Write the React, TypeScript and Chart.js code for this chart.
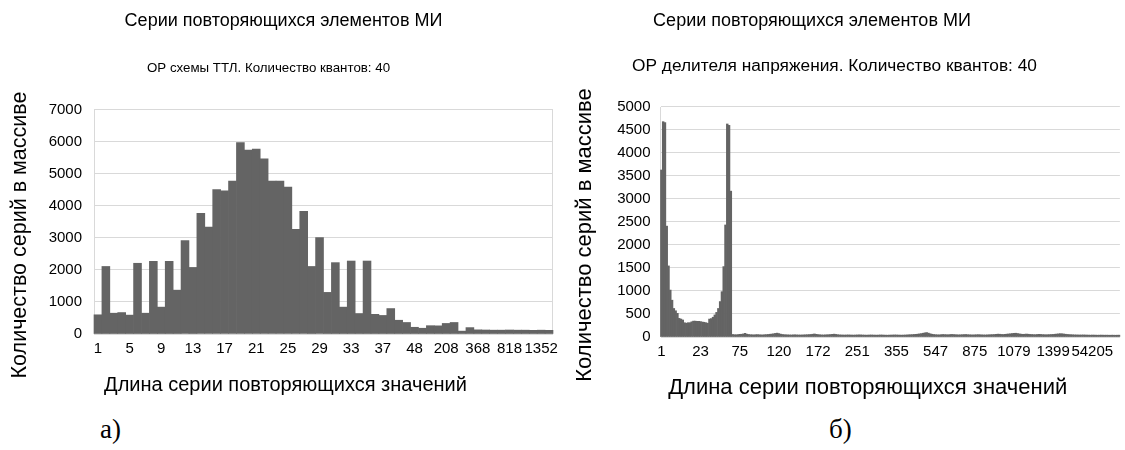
import React, { useEffect, useRef } from 'react';
import { Chart, registerables } from 'chart.js';

Chart.register(...registerables);

const mainTitle = 'Серии повторяющихся элементов МИ';
const leftSubtitle = 'ОР схемы ТТЛ. Количество квантов: 40';
const rightSubtitle = 'ОР делителя напряжения. Количество квантов: 40';
const xAxisTitle = 'Длина серии повторяющихся значений';
const yAxisTitle = 'Количество серий в массиве';
const leftCaption = 'а)';
const rightCaption = 'б)';

// Left chart (а): one bar per series length; tick labels every 4th category
const leftTickLabels = ['1', '5', '9', '13', '17', '21', '25', '29', '33', '37', '48', '208', '368', '818', '1352'];
const leftTickStep = 4;
const leftValues = [
  600, 2110, 650, 670, 590, 2210, 650, 2270, 840, 2270,
  1370, 2920, 2080, 3770, 3340, 4510, 4470, 4780, 5980, 5750,
  5780, 5470, 4780, 4780, 4590, 3270, 3830, 2110, 3010, 1300,
  2230, 840, 2280, 640, 2280, 615, 580, 795, 430, 360,
  210, 180, 260, 255, 330, 360, 90, 200, 130, 125,
  120, 120, 125, 120, 120, 115, 120, 115,
];

// Right chart (б): tick labels every 22nd category
const rightTickLabels = ['1', '23', '75', '120', '172', '251', '355', '547', '875', '1079', '1399', '54205'];
const rightTickStep = 22;
const rightValues = [
  3630, 4680, 4660, 2410, 1545, 1020, 800, 620, 570, 515,
  405, 390, 370, 310, 300, 310, 310, 330, 345, 345,
  340, 340, 335, 325, 320, 310, 300, 390, 400, 430,
  480, 535, 620, 770, 985, 1530, 2435, 4630, 4600, 3170,
  55, 50, 48, 52, 58, 60, 66, 80, 62, 55,
  50, 48, 46, 50, 52, 48, 46, 45, 50, 52,
  55, 60, 64, 70, 78, 84, 74, 62, 55, 50,
  48, 46, 45, 44, 46, 48, 45, 44, 43, 44,
  46, 48, 50, 52, 55, 60, 66, 58, 52, 48,
  45, 44, 46, 48, 50, 54, 58, 62, 56, 50,
  46, 44, 43, 42, 44, 45, 43, 42, 41, 43,
  44, 46, 45, 43, 42, 40, 41, 43, 44, 42,
  41, 40, 42, 44, 43, 41, 40, 39, 41, 42,
  43, 45, 44, 42, 41, 40, 42, 43, 45, 48,
  50, 52, 55, 58, 62, 68, 74, 82, 90, 96,
  84, 70, 60, 54, 50, 48, 46, 50, 54, 52,
  50, 48, 52, 56, 54, 50, 48, 46, 48, 50,
  52, 54, 50, 48, 46, 45, 47, 49, 51, 48,
  46, 45, 44, 46, 48, 50, 52, 54, 58, 62,
  60, 56, 54, 58, 62, 66, 70, 75, 80, 82,
  76, 68, 62, 58, 60, 64, 60, 56, 54, 52,
  50, 54, 58, 56, 52, 50, 48, 50, 52, 54,
  56, 60, 64, 68, 72, 70, 65, 60, 56, 52,
  50, 48, 46, 45, 44, 43, 44, 45, 43, 42,
  41, 40, 42, 41, 40, 39, 40, 41, 40, 39,
  40, 39, 38, 40, 39, 38, 39, 40,
];

const FONT = '"Liberation Sans", Arial, sans-serif';
const BAR = '#646464';
const GRID = '#d9d9d9';

const buildLabels = (values: number[], ticks: string[], step: number) =>
  values.map((_, i) => (i % step === 0 && ticks[i / step] !== undefined ? ticks[i / step] : ''));

// Light plot frame: left border always, right border optionally
const framePlugin = {
  id: 'frame',
  beforeDatasetsDraw(chart: any, _args: any, opts: any) {
    const { ctx, chartArea: a } = chart;
    ctx.save();
    ctx.strokeStyle = GRID;
    ctx.lineWidth = 1;
    ctx.beginPath();
    const xl = Math.round(a.left - 0.5) + 0.5;
    ctx.moveTo(xl, a.top);
    ctx.lineTo(xl, a.bottom);
    if (opts && opts.right) {
      const xr = Math.round(a.right) - 0.5;
      ctx.moveTo(xr, a.top);
      ctx.lineTo(xr, a.bottom);
    }
    ctx.stroke();
    ctx.restore();
  },
};

// Moves the text boxes (titles, axis titles) to where the reference puts them
const placePlugin = {
  id: 'place',
  afterLayout(chart: any, _args: any, o: any) {
    const sh = (b: any, dx: number, dy: number) => {
      if (!b) return;
      b.left += dx;
      b.right += dx;
      b.top += dy;
      b.bottom += dy;
    };
    sh(chart.scales.y, 0, o.yTitleDy || 0);
    sh(chart.scales.x, o.xTitleDx || 0, 0);
    sh(chart.titleBlock, o.titleDx || 0, 0);
    const sub = chart.boxes.find(
      (b: any) => b !== chart.titleBlock && !b.axis && b.options && b.options.text === o.subtitleText,
    );
    sh(sub, o.subtitleDx || 0, 0);
  },
};

type Cfg = {
  values: number[];
  labels: string[];
  subtitle: string;
  subtitleSize: number;
  subtitlePadTop: number;
  subtitlePadBottom: number;
  yMax: number;
  yStep: number;
  yWidth: number;
  yTitleSize: number;
  yTitlePad: number;
  yTickPad: number;
  xHeight: number;
  xTitleSize: number;
  xTitlePadBottom: number;
  padRight: number;
  drawRight: boolean;
  place: { titleDx: number; subtitleDx: number; xTitleDx: number; yTitleDy: number };
};

function makeConfig(c: Cfg): any {
  return {
    type: 'bar',
    data: {
      labels: c.labels,
      datasets: [
        {
          data: c.values,
          backgroundColor: BAR,
          borderWidth: 0,
          barPercentage: 1,
          categoryPercentage: 1,
          clip: false,
        },
      ],
    },
    plugins: [framePlugin, placePlugin],
    options: {
      animation: false,
      responsive: false,
      events: [],
      layout: { padding: { left: 0, right: c.padRight, top: 0, bottom: 0 } },
      plugins: {
        legend: { display: false },
        tooltip: { enabled: false },
        frame: { right: c.drawRight },
        place: { ...c.place, subtitleText: c.subtitle },
        title: {
          display: true,
          text: mainTitle,
          color: '#000',
          font: { family: FONT, size: 18, weight: 'normal' },
          padding: { top: 10, bottom: 0 },
        },
        subtitle: {
          display: true,
          text: c.subtitle,
          color: '#000',
          font: { family: FONT, size: c.subtitleSize, weight: 'normal' },
          padding: { top: c.subtitlePadTop, bottom: c.subtitlePadBottom },
        },
      },
      scales: {
        x: {
          grid: { display: false, drawTicks: false },
          border: { display: false },
          ticks: {
            autoSkip: false,
            maxRotation: 0,
            minRotation: 0,
            color: '#000',
            padding: 6,
            font: { family: FONT, size: 15 },
          },
          title: {
            display: true,
            text: xAxisTitle,
            color: '#000',
            font: { family: FONT, size: c.xTitleSize },
            padding: { top: 0, bottom: c.xTitlePadBottom },
          },
          afterFit: (s: any) => {
            s.height = c.xHeight;
          },
        },
        y: {
          min: 0,
          max: c.yMax,
          grid: { color: GRID, lineWidth: 1, drawTicks: false },
          border: { display: false },
          ticks: {
            stepSize: c.yStep,
            color: '#000',
            padding: c.yTickPad,
            font: { family: FONT, size: 15 },
            callback: (v: any) => String(v),
          },
          title: {
            display: true,
            text: yAxisTitle,
            color: '#000',
            font: { family: FONT, size: c.yTitleSize },
            padding: { top: c.yTitlePad, bottom: 0 },
          },
          afterFit: (s: any) => {
            s.width = c.yWidth;
          },
        },
      },
    },
  };
}

function BarPanel({ cfg, left, width, height }: { cfg: Cfg; left: number; width: number; height: number }) {
  const ref = useRef<HTMLCanvasElement | null>(null);
  useEffect(() => {
    if (!ref.current) return;
    const chart = new Chart(ref.current, makeConfig(cfg));
    return () => chart.destroy();
  }, []);
  return (
    <canvas
      ref={ref}
      width={width}
      height={height}
      style={{ position: 'absolute', left, top: 0, width, height }}
    />
  );
}

export default function App() {
  const leftCfg: Cfg = {
    values: leftValues,
    labels: buildLabels(leftValues, leftTickLabels, leftTickStep),
    subtitle: leftSubtitle,
    subtitleSize: 13.3,
    subtitlePadTop: 28.4,
    subtitlePadBottom: 34,
    yMax: 7000,
    yStep: 1000,
    yWidth: 94,
    yTitleSize: 21.5,
    yTitlePad: 7,
    yTickPad: 12,
    xHeight: 66,
    xTitleSize: 20,
    xTitlePadBottom: 3,
    padRight: 10,
    drawRight: true,
    place: { titleDx: 7, subtitleDx: -8, xTitleDx: -38, yTitleDy: 13 },
  };
  const rightCfg: Cfg = {
    values: rightValues,
    labels: buildLabels(rightValues, rightTickLabels, rightTickStep),
    subtitle: rightSubtitle,
    subtitleSize: 17.3,
    subtitlePadTop: 24,
    subtitlePadBottom: 30.6,
    yMax: 5000,
    yStep: 500,
    yWidth: 138.5,
    yTitleSize: 22,
    yTitlePad: 50,
    yTickPad: 10,
    xHeight: 65,
    xTitleSize: 22,
    xTitlePadBottom: 0.8,
    padRight: 0,
    drawRight: false,
    place: { titleDx: -11.5, subtitleDx: 11, xTitleDx: -22.5, yTitleDy: 13 },
  };
  const capStyle: React.CSSProperties = {
    position: 'absolute',
    top: 414,
    fontFamily: '"Liberation Serif", "Times New Roman", serif',
    fontSize: 27,
    lineHeight: '31px',
    color: '#000',
  };
  return (
    <div
      style={{
        position: 'fixed',
        left: 0,
        top: 0,
        width: 1125,
        height: 450,
        overflow: 'hidden',
        background: '#fff',
      }}
    >
      <BarPanel cfg={leftCfg} left={0} width={563} height={400} />
      <BarPanel cfg={rightCfg} left={522} width={603} height={402} />
      <div style={{ ...capStyle, left: 100 }}>{leftCaption}</div>
      <div style={{ ...capStyle, left: 829 }}>{rightCaption}</div>
    </div>
  );
}
